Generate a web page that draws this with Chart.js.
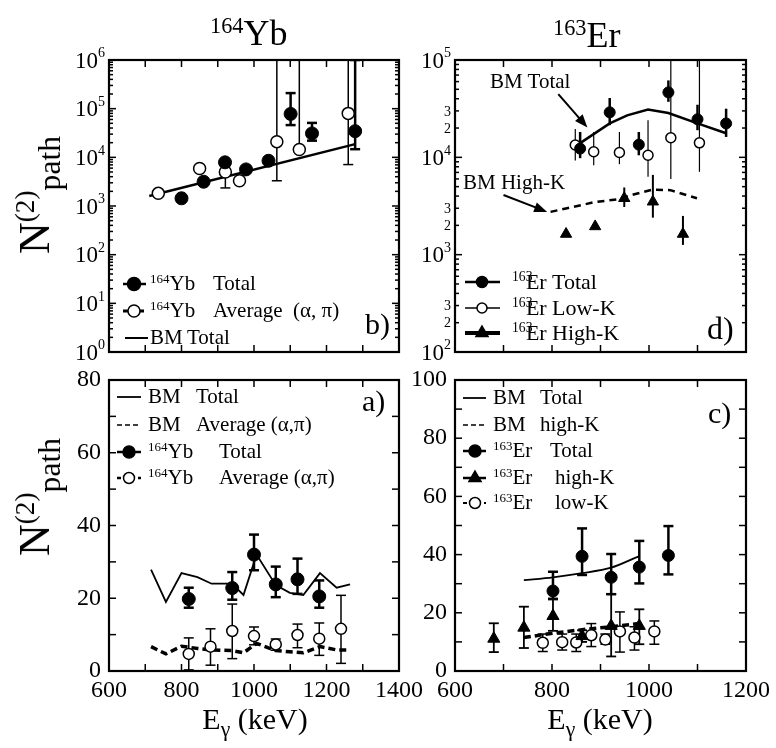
<!DOCTYPE html>
<html><head><meta charset="utf-8">
<script src="https://cdn.jsdelivr.net/npm/chart.js@4.4.1/dist/chart.umd.min.js"></script>
<style>
html,body{margin:0;padding:0;background:#fff;}
#wrap{position:relative;width:776px;height:748px;overflow:hidden;font-family:"Liberation Serif","Times New Roman",serif;color:#000;background:#fff;}
#wrap canvas{position:absolute;left:0;top:0;}
.t{position:absolute;white-space:pre;line-height:1;z-index:5;}
.t sup{font-size:0.62em;vertical-align:baseline;position:relative;top:-0.55em;line-height:0;}
.t sub{font-size:0.72em;vertical-align:baseline;position:relative;top:0.35em;line-height:0;}
.t sup.ov{margin-right:-0.48em;}
</style></head><body><div id="wrap">
<canvas id="cb" width="776" height="748" style="width:776px;height:748px"></canvas>
<canvas id="cd" width="776" height="748" style="width:776px;height:748px"></canvas>
<canvas id="ca" width="776" height="748" style="width:776px;height:748px"></canvas>
<canvas id="cc" width="776" height="748" style="width:776px;height:748px"></canvas>
</div>
<script>
// ================= DATA =================
// Panel b) 164Yb, log scale
const bTotalE  = [800, 861, 920, 978, 1040, 1101, 1160, 1279];
const bTotalN  = [1440, 3150, 7900, 5650, 8500, 78000, 31000, 34500];
const bTotalLo = [null, null, null, null, null, 46000, 22000, 14700];
const bTotalHi = [null, null, null, null, null, 209000, 51000, 1000000];
const bAvgE    = [736, 850, 921, 960, 1063, 1125, 1260];
const bAvgN    = [1820, 5900, 5000, 3300, 21000, 14500, 80000];
const bAvgLo   = [null, null, 2350, null, 3300, null, 7100];
const bAvgHi   = [null, null, null, null, 2000000, 2000000, 1000000];
const bBmE     = [711, 1279];
const bBmN     = [1600, 18700];

// Panel d) 163Er, log scale
const dTotalE  = [858, 919, 979, 1040, 1100, 1159];
const dTotalN  = [12300, 29000, 13500, 46500, 24600, 22300];
const dTotalLo = [9800, 21400, 10500, 37200, 19000, 16200];
const dTotalHi = [18200, 40700, 18200, 61700, 34700, 31600];
const dLowE    = [848, 886, 939, 998, 1045, 1104];
const dLowN    = [13400, 11400, 11200, 10500, 15900, 14100];
const dLowLo   = [9300, 8300, 8500, 6300, 6000, 7100];
const dLowHi   = [19500, 18200, 18200, 24000, 100000, 100000];
const dHighE   = [829, 889, 949, 1008, 1070];
const dHighN   = [1630, 1950, 3800, 3500, 1630];
const dHighLo  = [null, null, 3090, 2400, 1260];
const dHighHi  = [null, null, 4900, 6600, 2500];
const dBmTotE  = [858, 919, 955, 998, 1040, 1100, 1159];
const dBmTotN  = [14000, 22300, 27000, 31000, 28500, 22300, 17700];
const dBmHighE = [797, 831, 886, 934, 968, 1006, 1044, 1099];
const dBmHighN = [2750, 3000, 3450, 3700, 4150, 4650, 4600, 3800];

// Panel a) 164Yb, linear
const aTotalE  = [820, 940, 1000, 1060, 1120, 1180];
const aTotalN  = [19.8, 22.8, 32, 23.8, 25.2, 20.5];
const aTotalLo = [17.4, 19.6, 27.7, 20.3, 21.2, 17.4];
const aTotalHi = [22.9, 27.2, 37.5, 28.7, 30.9, 24.9];
const aAvgE    = [820, 880, 940, 1000, 1060, 1120, 1180, 1240];
const aAvgN    = [4.7, 6.7, 11, 9.6, 7.3, 9.9, 8.9, 11.6];
const aAvgLo   = [0.3, 1.6, 3.4, 7.2, 5.7, 6.4, 4.3, 2.1];
const aAvgHi   = [9.1, 11.6, 18.4, 12.1, 8.8, 12.9, 13.2, 20.8];
const aBmE     = [716, 757, 800, 844, 883, 939, 971, 1007, 1060, 1099, 1136, 1182, 1228, 1265];
const aBmTotN  = [27.9, 19, 26.9, 25.8, 24, 24, 20.9, 32, 23.6, 21.5, 20.9, 26.9, 22.9, 23.8];
const aBmAvgN  = [6.7, 4.7, 6.8, 6.2, 5.8, 5.6, 5.0, 7.6, 5.6, 5.3, 5.0, 6.7, 5.8, 5.8];

// Panel c) 163Er, linear
const cTotalE  = [802, 862, 922, 980, 1040];
const cTotalN  = [27.5, 39.4, 32.2, 35.7, 39.7];
const cTotalLo = [24.7, 33, 26.4, 30.1, 33.2];
const cTotalHi = [34.1, 49, 40.2, 44.7, 49.8];
const cHighE   = [680, 742, 802, 862, 922, 980];
const cHighN   = [11.1, 14.9, 18.9, 12, 15.5, 15.5];
const cHighLo  = [6.5, 7.9, 13.8, 10, 5, 9.2];
const cHighHi  = [16.4, 22.1, 24.9, 14, 26.4, 21.2];
const cLowE    = [781, 821, 850, 881, 910, 940, 970, 1011];
const cLowN    = [9.7, 9.9, 9.8, 12.3, 10.8, 13.6, 11.5, 13.6];
const cLowLo   = [6.7, 7.2, 6.7, 8.4, 9.2, 6.5, 7.2, 9.2];
const cLowHi   = [12.7, 12.7, 12.7, 16.3, 12.7, 20.3, 15.2, 17.2];
const cBmE     = [742, 802, 862, 922, 980];
const cBmTotN  = [31.2, 32.2, 33.6, 35.5, 39.5];
const cBmHighN = [11.5, 13.0, 14.2, 15.2, 16.3];

// annotation arrows for panel d (data coords)
const dArrowFrom = [[813, 44700], [700, 4100]];
const dArrowTo   = [[873, 20300], [790, 2750]];

// ================= HELPERS =================
const FAM = 'Liberation Serif';
function pts(xs, ys) { return xs.map((x, i) => ({x: x, y: ys[i]})); }
function mk(label, xs, ys, kind, o) {
  o = o || {};
  const d = {label: label, data: pts(xs, ys), borderColor: '#000', pointBorderColor: '#000', order: 0};
  if (kind === 'fill' || kind === 'open' || kind === 'tri') {
    Object.assign(d, {showLine: false, pointStyle: kind === 'tri' ? 'triangle' : 'circle',
      pointRadius: o.r, pointHoverRadius: o.r,
      pointBackgroundColor: kind === 'open' ? '#fff' : '#000',
      pointBorderWidth: kind === 'open' ? 1.5 : 1, order: 0});
  } else {
    Object.assign(d, {showLine: true, pointRadius: 0, pointHoverRadius: 0, borderWidth: o.w,
      borderDash: kind === 'dash' ? o.dash : [], tension: o.tension || 0, fill: false, order: 1});
  }
  if (o.lo) d.errLo = o.lo;
  if (o.hi) d.errHi = o.hi;
  d.errWidth = o.ew || 1.5;
  d.errCap = o.cap || 0;
  return d;
}

const DECOR = {
  cb: {xStep: 100, yStep: 0, log: true, logFont: 23, minorLabels: [], tick: 7, minorTick: 4,
       legend: [
         {y: 284, x1: 123, x2: 146, lw: 2.5, marker: 'fill', r: 6.5, mx: 134},
         {y: 311, x1: 123, x2: 146, lw: 3, dash: [5, 3], marker: 'open', r: 6, mx: 134},
         {y: 338, x1: 125, x2: 148, lw: 2}
       ], arrows: false},
  cd: {xStep: 100, yStep: 0, log: true, logFont: 23, minorLabels: [2, 3], tick: 7, minorTick: 4,
       legend: [
         {y: 282, x1: 465, x2: 500, lw: 2.5, marker: 'fill', r: 5.5, mx: 482},
         {y: 308, x1: 465, x2: 500, lw: 1.5, marker: 'open', r: 5, mx: 482},
         {y: 333, x1: 465, x2: 500, lw: 4, marker: 'tri', r: 7, mx: 482}
       ], arrows: true},
  ca: {xStep: 100, yStep: 10, log: false, tick: 7,
       legend: [
         {y: 397, x1: 117, x2: 141, lw: 1.8},
         {y: 425, x1: 117, x2: 141, lw: 1.5, dash: [5, 3]},
         {y: 452, x1: 117, x2: 141, lw: 2.5, marker: 'fill', r: 6, mx: 129},
         {y: 478, x1: 117, x2: 141, lw: 2.5, dash: [4, 3], marker: 'open', r: 5.5, mx: 129}
       ], arrows: false},
  cc: {xStep: 100, yStep: 10, log: false, tick: 7,
       legend: [
         {y: 398, x1: 463, x2: 486, lw: 1.8},
         {y: 425, x1: 463, x2: 486, lw: 1.5, dash: [5, 3]},
         {y: 451, x1: 463, x2: 486, lw: 2.5, marker: 'fill', r: 6, mx: 475},
         {y: 478, x1: 463, x2: 486, lw: 2.5, marker: 'tri', r: 7, mx: 475},
         {y: 503, x1: 463, x2: 486, lw: 2, dash: [4, 3], marker: 'open', r: 5.5, mx: 475}
       ], arrows: false}
};

function drawMarker(ctx, kind, x, y, r) {
  ctx.save();
  ctx.setLineDash([]);
  ctx.beginPath();
  if (kind === 'tri') {
    for (let k = 0; k < 3; k++) {
      const ang = -Math.PI / 2 + k * 2 * Math.PI / 3;
      const px = x + r * Math.cos(ang), py = y + r * Math.sin(ang);
      if (k === 0) ctx.moveTo(px, py); else ctx.lineTo(px, py);
    }
    ctx.closePath();
  } else {
    ctx.arc(x, y, r, 0, Math.PI * 2);
  }
  ctx.fillStyle = kind === 'open' ? '#fff' : '#000';
  ctx.fill();
  ctx.lineWidth = 1.5; ctx.strokeStyle = '#000';
  ctx.stroke();
  ctx.restore();
}

const decorPlugin = {
  id: 'decor',
  beforeDatasetsDraw(chart) {
    const ctx = chart.ctx, a = chart.chartArea, ys = chart.scales.y;
    ctx.save();
    ctx.beginPath(); ctx.rect(a.left, a.top - 1, a.right - a.left, a.bottom - a.top + 2); ctx.clip();
    ctx.strokeStyle = '#000';
    chart.data.datasets.forEach((d, i) => {
      if (!d.errLo && !d.errHi) return;
      const meta = chart.getDatasetMeta(i);
      ctx.lineWidth = d.errWidth;
      meta.data.forEach((pt, j) => {
        const ends = [];
        if (d.errHi && d.errHi[j] != null) ends.push(ys.getPixelForValue(d.errHi[j]));
        if (d.errLo && d.errLo[j] != null) ends.push(ys.getPixelForValue(d.errLo[j]));
        ends.forEach(ey => {
          ctx.beginPath(); ctx.moveTo(pt.x, pt.y); ctx.lineTo(pt.x, ey); ctx.stroke();
          if (d.errCap && ey >= a.top - 0.5 && ey <= a.bottom + 0.5) {
            ctx.beginPath(); ctx.moveTo(pt.x - d.errCap, ey); ctx.lineTo(pt.x + d.errCap, ey); ctx.stroke();
          }
        });
      });
    });
    ctx.restore();
  },
  afterDatasetsDraw(chart) {
    const o = DECOR[chart.canvas.id];
    const ctx = chart.ctx, a = chart.chartArea, xs = chart.scales.x, ys = chart.scales.y;
    ctx.save();
    ctx.strokeStyle = '#000'; ctx.fillStyle = '#000'; ctx.lineWidth = 1.5;
    const seg = (x1, y1, x2, y2) => { ctx.beginPath(); ctx.moveTo(x1, y1); ctx.lineTo(x2, y2); ctx.stroke(); };
    // x ticks (inward, top and bottom)
    for (let v = xs.min; v <= xs.max + 1e-6; v += o.xStep) {
      const px = xs.getPixelForValue(v);
      seg(px, a.bottom, px, a.bottom - o.tick);
      seg(px, a.top, px, a.top + o.tick);
    }
    // y ticks
    if (o.log) {
      const k0 = Math.round(Math.log10(ys.min)), k1 = Math.round(Math.log10(ys.max));
      for (let k = k0; k <= k1; k++) {
        for (let m = 1; m <= 9; m++) {
          const v = m * Math.pow(10, k);
          if (v < ys.min * 0.999 || v > ys.max * 1.001) continue;
          const py = ys.getPixelForValue(v);
          const len = m === 1 ? o.tick : o.minorTick;
          seg(a.left, py, a.left + len, py);
          seg(a.right, py, a.right - len, py);
        }
      }
      // labels 10^k
      const big = o.logFont, small = Math.round(o.logFont * 0.62);
      for (let k = k0; k <= k1; k++) {
        const py = ys.getPixelForValue(Math.pow(10, k));
        ctx.font = small + 'px "' + FAM + '"';
        const ew = ctx.measureText(String(k)).width;
        const xr = a.left - 4;
        ctx.textAlign = 'left'; ctx.textBaseline = 'alphabetic';
        ctx.fillText(String(k), xr - ew, py + big * 0.33 - big * 0.45);
        ctx.font = big + 'px "' + FAM + '"';
        ctx.textAlign = 'right';
        ctx.fillText('10', xr - ew, py + big * 0.33);
        o.minorLabels.forEach(m => {
          const v = m * Math.pow(10, k);
          if (v > ys.max) return;
          const pm = ys.getPixelForValue(v);
          ctx.font = small + 'px "' + FAM + '"';
          ctx.textAlign = 'right';
          ctx.fillText(String(m), xr, pm + small * 0.33);
        });
      }
    } else {
      for (let v = ys.min; v <= ys.max + 1e-6; v += o.yStep) {
        const py = ys.getPixelForValue(v);
        seg(a.left, py, a.left + o.tick, py);
        seg(a.right, py, a.right - o.tick, py);
      }
    }
    // frame
    ctx.lineWidth = 2.2;
    ctx.strokeRect(a.left, a.top, a.right - a.left, a.bottom - a.top);
    // legend symbols
    o.legend.forEach(L => {
      ctx.lineWidth = L.lw;
      ctx.setLineDash(L.dash || []);
      seg(L.x1, L.y, L.x2, L.y);
      ctx.setLineDash([]);
      if (L.marker) drawMarker(ctx, L.marker, L.mx, L.y, L.r);
    });
    // arrows (data coordinates)
    if (o.arrows) {
      dArrowFrom.forEach((f, i) => {
        const t = dArrowTo[i];
        const x1 = xs.getPixelForValue(f[0]), y1 = ys.getPixelForValue(f[1]);
        const x2 = xs.getPixelForValue(t[0]), y2 = ys.getPixelForValue(t[1]);
        const ang = Math.atan2(y2 - y1, x2 - x1), hl = 13, hw = 5;
        ctx.lineWidth = 2;
        seg(x1, y1, x2 - hl * 0.8 * Math.cos(ang), y2 - hl * 0.8 * Math.sin(ang));
        ctx.beginPath();
        ctx.moveTo(x2, y2);
        ctx.lineTo(x2 - hl * Math.cos(ang) + hw * Math.sin(ang), y2 - hl * Math.sin(ang) - hw * Math.cos(ang));
        ctx.lineTo(x2 - hl * Math.cos(ang) - hw * Math.sin(ang), y2 - hl * Math.sin(ang) + hw * Math.cos(ang));
        ctx.closePath(); ctx.fill();
      });
    }
    ctx.restore();
  }
};

function makeChart(id, cfg) {
  const yw = cfg.yLabels ? 60 : 0, xh = cfg.xLabels ? 40 : 0;
  const A = cfg.area;
  const tf = {family: FAM, size: 24};
  return new Chart(document.getElementById(id), {
    type: 'scatter',
    data: {datasets: cfg.datasets},
    options: {
      responsive: false, animation: false, devicePixelRatio: 1, events: [],
      layout: {padding: {left: A.L - yw, top: A.T, right: 776 - A.R, bottom: 748 - A.B - xh}},
      plugins: {legend: {display: false}, tooltip: {enabled: false}},
      scales: {
        x: {type: 'linear', position: 'bottom', min: cfg.xMin, max: cfg.xMax,
            ticks: {display: cfg.xLabels, stepSize: 200, autoSkip: false, maxRotation: 0, padding: 5,
                    color: '#000', font: tf, callback: v => String(v)},
            grid: {display: false, drawTicks: false}, border: {display: false},
            afterFit: s => { s.height = xh; }},
        y: {type: cfg.yType, position: 'left', min: cfg.yMin, max: cfg.yMax,
            ticks: {display: cfg.yLabels, stepSize: 20, autoSkip: false, padding: 8,
                    color: '#000', font: tf, callback: v => String(v)},
            grid: {display: false, drawTicks: false}, border: {display: false},
            afterFit: s => { s.width = yw; }}
      }
    },
    plugins: [decorPlugin]
  });
}

// ================= CHARTS =================
makeChart('cb', {area: {L: 109, T: 60, R: 399, B: 352}, xMin: 600, xMax: 1400, yType: 'logarithmic', yMin: 1, yMax: 1e6,
  xLabels: false, yLabels: false,
  datasets: [
    mk('164Yb Total', bTotalE, bTotalN, 'fill', {r: 6.5, lo: bTotalLo, hi: bTotalHi, ew: 2.5, cap: 5}),
    mk('164Yb Average (α, π)', bAvgE, bAvgN, 'open', {r: 6, lo: bAvgLo, hi: bAvgHi, ew: 1.5, cap: 5}),
    mk('BM Total', bBmE, bBmN, 'solid', {w: 2.5})
  ]});

makeChart('cd', {area: {L: 455, T: 60, R: 746, B: 352}, xMin: 600, xMax: 1200, yType: 'logarithmic', yMin: 100, yMax: 1e5,
  xLabels: false, yLabels: false,
  datasets: [
    mk('163Er Total', dTotalE, dTotalN, 'fill', {r: 5.5, lo: dTotalLo, hi: dTotalHi, ew: 2.5}),
    mk('163Er Low-K', dLowE, dLowN, 'open', {r: 5, lo: dLowLo, hi: dLowHi, ew: 1.2}),
    mk('163Er High-K', dHighE, dHighN, 'tri', {r: 6.5, lo: dHighLo, hi: dHighHi, ew: 2}),
    mk('BM Total', dBmTotE, dBmTotN, 'solid', {w: 2.5}),
    mk('BM High-K', dBmHighE, dBmHighN, 'dash', {w: 2.5, dash: [7, 5]})
  ]});

makeChart('ca', {area: {L: 109, T: 380, R: 399, B: 671}, xMin: 600, xMax: 1400, yType: 'linear', yMin: 0, yMax: 80,
  xLabels: true, yLabels: true,
  datasets: [
    mk('164Yb Total', aTotalE, aTotalN, 'fill', {r: 6.5, lo: aTotalLo, hi: aTotalHi, ew: 2.5, cap: 5}),
    mk('164Yb Average (α,π)', aAvgE, aAvgN, 'open', {r: 5.5, lo: aAvgLo, hi: aAvgHi, ew: 1.5, cap: 5}),
    mk('BM Total', aBmE, aBmTotN, 'solid', {w: 1.8}),
    mk('BM Average (α,π)', aBmE, aBmAvgN, 'dash', {w: 3.5, dash: [7, 4]})
  ]});

makeChart('cc', {area: {L: 455, T: 380, R: 746, B: 671}, xMin: 600, xMax: 1200, yType: 'linear', yMin: 0, yMax: 100,
  xLabels: true, yLabels: true,
  datasets: [
    mk('163Er Total', cTotalE, cTotalN, 'fill', {r: 6, lo: cTotalLo, hi: cTotalHi, ew: 2.5, cap: 5}),
    mk('163Er high-K', cHighE, cHighN, 'tri', {r: 7, lo: cHighLo, hi: cHighHi, ew: 1.8, cap: 5}),
    mk('163Er low-K', cLowE, cLowN, 'open', {r: 5.5, lo: cLowLo, hi: cLowHi, ew: 1.5, cap: 5}),
    mk('BM Total', cBmE, cBmTotN, 'solid', {w: 1.8, tension: 0.3}),
    mk('BM high-K', cBmE, cBmHighN, 'dash', {w: 3.5, dash: [7, 4]})
  ]});

// ================= TEXT =================
const wrap = document.getElementById('wrap');
function txt(html, left, baseline, size, opts) {
  opts = opts || {};
  const el = document.createElement('div');
  el.className = 't';
  el.innerHTML = html;
  el.style.fontSize = size + 'px';
  el.style.left = left + 'px';
  el.style.top = (baseline - 0.8375 * size) + 'px';
  if (opts.center) el.style.transform = 'translateX(-50%)';
  wrap.appendChild(el);
  return el;
}
function rot(html, cx, cy, size) {
  const el = document.createElement('div');
  el.className = 't';
  el.innerHTML = html;
  el.style.fontSize = size + 'px';
  el.style.left = cx + 'px';
  el.style.top = cy + 'px';
  el.style.transform = 'translate(-50%,-50%) rotate(-90deg)';
  wrap.appendChild(el);
}
// titles
txt('<sup>164</sup>Yb', 210, 45, 36);
txt('<sup>163</sup>Er', 553, 47, 36);
// y titles
rot('N<sup>(2)</sup><sub>path</sub>', 35, 195, 44);
rot('N<sup>(2)</sup><sub>path</sub>', 35, 497, 44);
// x titles
txt('E<sub>γ</sub> (keV)', 255, 729, 30, {center: true});
txt('E<sub>γ</sub> (keV)', 600, 729, 30, {center: true});
// legend b
txt('<sup>164</sup>Yb', 150, 291, 21); txt('Total', 213, 291, 21);
txt('<sup>164</sup>Yb', 150, 318, 21); txt('Average  (α, π)', 213, 318, 21);
txt('BM', 150, 345, 21); txt('Total', 187, 345, 21);
txt('b)', 365, 334, 30);
// legend d
txt('<sup class="ov">163</sup>Er', 512, 289, 22); txt('Total', 552, 289, 22);
txt('<sup class="ov">163</sup>Er', 512, 315, 22); txt('Low-K', 552, 315, 22);
txt('<sup class="ov">163</sup>Er', 512, 340, 22); txt('High-K', 552, 340, 22);
txt('d)', 707, 339, 32);
txt('BM Total', 490, 89, 21);
txt('BM High-K', 463, 190, 21);
// legend a
txt('BM', 148, 404, 21); txt('Total', 196, 404, 21);
txt('BM', 148, 432, 21); txt('Average (α,π)', 196, 432, 21);
txt('<sup>164</sup>Yb', 148, 459, 21); txt('Total', 219, 459, 21);
txt('<sup>164</sup>Yb', 148, 485, 21); txt('Average (α,π)', 219, 485, 21);
txt('a)', 362, 411, 30);
// legend c
txt('BM', 493, 405, 21); txt('Total', 540, 405, 21);
txt('BM', 493, 432, 21); txt('high-K', 540, 432, 21);
txt('<sup>163</sup>Er', 493, 458, 21); txt('Total', 550, 458, 21);
txt('<sup>163</sup>Er', 493, 485, 21); txt('high-K', 555, 485, 21);
txt('<sup>163</sup>Er', 493, 510, 21); txt('low-K', 555, 510, 21);
txt('c)', 708, 423, 30);
</script>
</body></html>
